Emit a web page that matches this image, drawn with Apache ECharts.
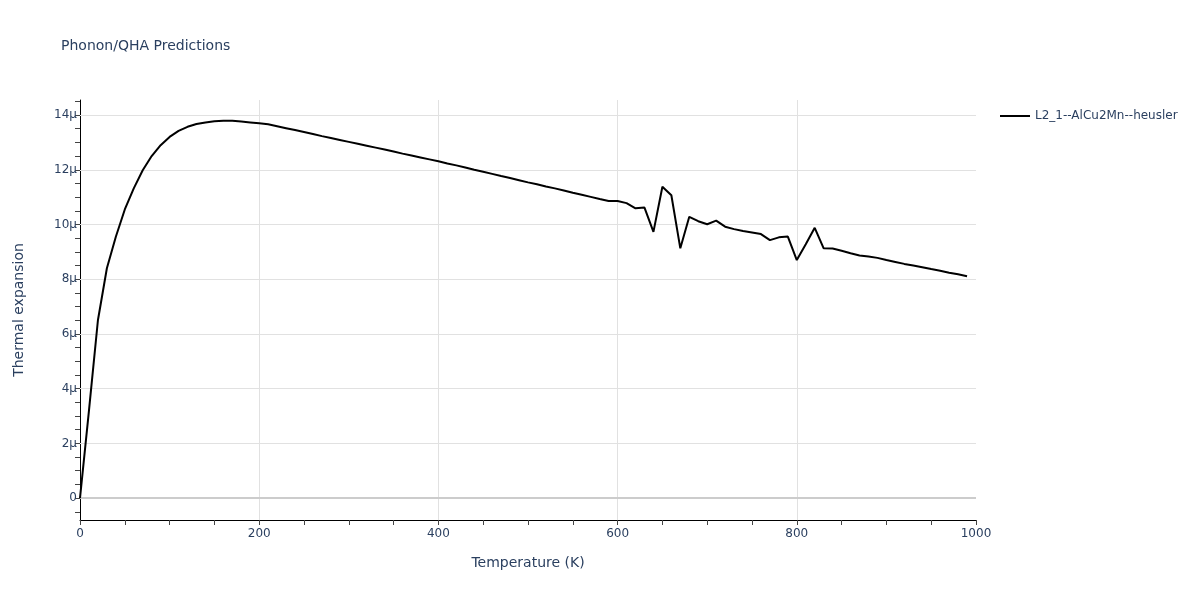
<!DOCTYPE html>
<html>
<head>
<meta charset="utf-8">
<script src="https://cdn.jsdelivr.net/npm/echarts@6/dist/echarts.min.js"></script>
<style>html,body{margin:0;padding:0;background:#fff;}#c{width:1200px;height:600px;}</style>
</head>
<body>
<div id="c"></div>
<script>
// Temperatures (K)
const temperatures = [0,10,20,30,40,50,60,70,80,90,100,110,120,130,140,150,160,170,180,190,
  200,210,220,230,240,250,260,270,280,290,300,310,320,330,340,350,360,370,380,390,
  400,410,420,430,440,450,460,470,480,490,500,510,520,530,540,550,560,570,580,590,
  600,610,620,630,640,650,660,670,680,690,700,710,720,730,740,750,760,770,780,790,
  800,810,820,830,840,850,860,870,880,890,900,910,920,930,940,950,960,970,980,990];
// Thermal expansion (in units of 1e-6)
const thermalExpansion = [0,3.2,6.5,8.4,9.55,10.55,11.32,11.98,12.5,12.9,13.2,13.42,13.57,13.67,13.73,13.77,13.79,13.79,13.76,13.73,
  13.70,13.66,13.59,13.52,13.45,13.38,13.31,13.23,13.16,13.09,13.02,12.95,12.88,12.81,12.74,12.67,12.59,12.52,12.45,12.38,
  12.31,12.23,12.16,12.08,12.00,11.93,11.85,11.77,11.70,11.62,11.54,11.47,11.39,11.32,11.24,11.16,11.09,11.01,10.93,10.86,
  10.86,10.78,10.59,10.62,9.73,11.38,11.07,9.13,10.28,10.12,10.01,10.14,9.92,9.83,9.76,9.71,9.65,9.43,9.53,9.56,
  8.70,9.28,9.88,9.13,9.12,9.04,8.95,8.87,8.83,8.78,8.70,8.63,8.56,8.50,8.44,8.37,8.31,8.24,8.18,8.11];
const seriesName = 'L2_1--AlCu2Mn--heusler';
const yGridValues = [2,4,6,8,10,12,14];
const xGridValues = [200,400,600,800];
const yLabelValues = [0,2,4,6,8,10,12,14];

const FONT = 'DejaVu Sans';
const TXT = '#2a3f5f';
const plotTop = 100, plotBottomPx = 520, plotLeft = 80, plotRight = 976;
const yMin = -0.8, yMax = 14.55;
const pxPerUnit = (plotBottomPx - plotTop) / (yMax - yMin);
// display axis grid: from -0.5 to 14.5
const dTop = plotTop + (yMax - 14.5) * pxPerUnit;
const dBottom = plotBottomPx - (-0.5 - yMin) * pxPerUnit;

const chart = echarts.init(document.getElementById('c'), null, {renderer: 'canvas'});
chart.setOption({
  animation: false,
  backgroundColor: '#fff',
  textStyle: {fontFamily: FONT},
  title: {text: 'Phonon/QHA Predictions', left: 56, top: 34,
    textStyle: {fontFamily: FONT, fontSize: 14, fontWeight: 'normal', color: TXT}},
  legend: {left: 995, top: 105, itemWidth: 30, itemHeight: 14, icon: 'path://M0,0L30,0L30,2L0,2Z',
    textStyle: {fontFamily: FONT, fontSize: 12, color: TXT},
    data: [{name: seriesName, itemStyle: {color: '#000'}}]},
  grid: [
    {left: plotLeft, right: 1200 - plotRight, top: plotTop, bottom: 600 - plotBottomPx},
    {left: plotLeft, right: 1200 - plotRight, top: dTop, bottom: 600 - dBottom}
  ],
  xAxis: [
    {type: 'value', gridIndex: 0, min: 0, max: 1000, interval: 200,
     name: 'Temperature (K)', nameLocation: 'middle', nameGap: 36,
     nameTextStyle: {fontFamily: FONT, fontSize: 14, color: TXT},
     axisLine: {show: true, onZero: false, lineStyle: {color: '#000', width: 1}},
     axisTick: {show: true, length: 5, lineStyle: {color: '#444'}},
     minorTick: {show: true, splitNumber: 4, length: 5, lineStyle: {color: '#444'}},
     axisLabel: {fontFamily: FONT, fontSize: 12, color: TXT, margin: 8,
       formatter: function (v) { return String(v); }},
     splitLine: {show: false}},
    {type: 'value', gridIndex: 1, min: 0, max: 1000, show: false}
  ],
  yAxis: [
    {type: 'value', gridIndex: 0, min: yMin, max: yMax,
     axisLine: {show: true, onZero: false, lineStyle: {color: '#000', width: 1}},
     axisTick: {show: false}, axisLabel: {show: false}, splitLine: {show: false},
     name: 'Thermal expansion', nameLocation: 'middle', nameGap: 54,
     nameTextStyle: {fontFamily: FONT, fontSize: 14, color: TXT}},
    {type: 'value', gridIndex: 1, min: -0.5, max: 14.5, interval: 0.5,
     axisLine: {show: false},
     axisTick: {show: true, length: 5, lineStyle: {color: '#444'}},
     splitLine: {show: false},
     axisLabel: {fontFamily: FONT, fontSize: 12, color: TXT, margin: 3,
       formatter: function (v) {
         const r = Math.round(v);
         if (Math.abs(v - r) > 1e-6 || yLabelValues.indexOf(r) < 0) return '';
         return r === 0 ? '0' : r + 'µ';
       }}}
  ],
  series: [{
    name: seriesName, type: 'line', xAxisIndex: 0, yAxisIndex: 0,
    data: temperatures.map((t, i) => [t, thermalExpansion[i]]),
    symbol: 'none', showSymbol: false, z: 3,
    lineStyle: {color: '#000', width: 2}, itemStyle: {color: '#000'},
    markLine: {
      silent: true, symbol: 'none', z: 1, animation: false,
      label: {show: false},
      emphasis: {disabled: true},
      data: [].concat(
        yGridValues.map(v => ({yAxis: v, lineStyle: {color: '#e1e1e1', width: 1, type: 'solid'}})),
        xGridValues.map(v => ({xAxis: v, lineStyle: {color: '#e1e1e1', width: 1, type: 'solid'}})),
        [{yAxis: 0, lineStyle: {color: '#cccccc', width: 2, type: 'solid'}}]
      )
    }
  }]
});
</script>
</body>
</html>
